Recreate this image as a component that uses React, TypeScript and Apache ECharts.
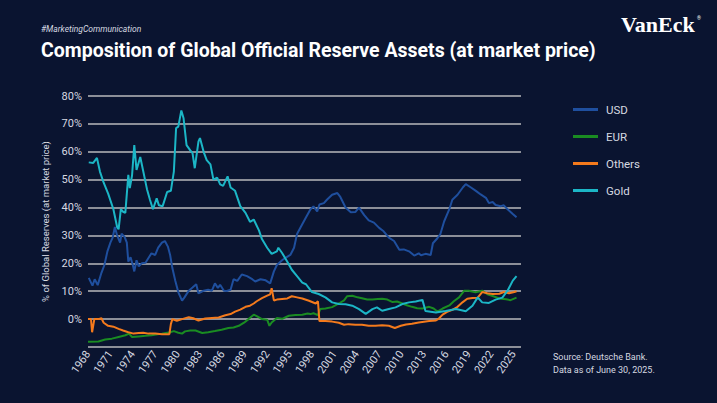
import React, { useEffect, useRef } from "react";
import * as echarts from "echarts";

// Share of global official reserve assets, % at market price; [year, value]
const usd: [number, number][] = [
  [1968.1, 14.8], [1968.6, 12], [1968.9, 14.3], [1969.3, 12.2], [1969.8, 16.6], [1970.2, 19.4],
  [1970.6, 24.3], [1971.0, 27.4], [1971.3, 29.2], [1971.6, 33], [1971.9, 30], [1972.3, 27.4],
  [1972.5, 30.6], [1972.9, 29.5], [1973.2, 27.4], [1973.4, 20.6], [1973.7, 22.2], [1974.0, 19.4],
  [1974.2, 17.1], [1974.5, 21.1], [1974.8, 18.9], [1975.2, 20], [1975.7, 20.2], [1976.1, 21.9],
  [1976.5, 23.6], [1977.0, 23], [1977.4, 25.6], [1977.9, 27.4], [1978.3, 28], [1978.7, 26],
  [1979.0, 23], [1979.3, 18.3], [1979.7, 13.7], [1980.1, 9.6], [1980.6, 6.6], [1980.9, 7.7],
  [1981.5, 10.2], [1982.0, 11.3], [1982.5, 12.5], [1982.8, 9.2], [1983.5, 10.2], [1984.1, 10.5],
  [1984.6, 10.2], [1985.0, 12.8], [1985.4, 11.2], [1985.7, 12.3], [1986.2, 10.2], [1986.6, 10.1],
  [1987.1, 10.5], [1987.5, 14.3], [1988.0, 13.7], [1988.6, 16], [1989.3, 15.4], [1990.0, 14.3],
  [1990.4, 13.5], [1991.1, 14.3], [1991.8, 13.9], [1992.4, 12.8], [1992.9, 17.1], [1993.3, 19.4],
  [1994.0, 21.1], [1994.4, 21.9], [1995.1, 23], [1995.6, 25.6], [1996.0, 30.5], [1996.5, 33],
  [1997.1, 36], [1997.8, 39.4], [1998.2, 40.4], [1998.7, 38.6], [1999.0, 41.1], [1999.6, 41.6],
  [2000.0, 42.8], [2000.7, 44.6], [2001.4, 45.2], [2001.8, 43.8], [2002.5, 40], [2003.2, 38.3],
  [2003.8, 38.4], [2004.3, 40], [2005.0, 37.3], [2005.6, 35.4], [2006.3, 34.6], [2007.0, 32.7],
  [2007.6, 31.5], [2008.3, 29.2], [2009.0, 28], [2009.7, 24.9], [2010.3, 25], [2011.0, 24.3],
  [2011.7, 22.8], [2012.3, 23.6], [2012.6, 22.9], [2013.2, 23.4], [2013.9, 23], [2014.2, 27.2],
  [2014.8, 29], [2015.2, 30.5], [2015.7, 35], [2016.4, 39.4], [2016.8, 42.8], [2017.5, 44.6],
  [2018.2, 47.2], [2018.6, 48.4], [2019.3, 47.2], [2020.0, 45.9], [2020.6, 44.7], [2021.3, 43.5],
  [2021.7, 41.6], [2022.2, 42], [2022.6, 40.9], [2023.3, 40.5], [2023.7, 40.8], [2024.2, 39.4],
  [2024.9, 37.7], [2025.4, 36.5],
];

const eur: [number, number][] = [
  [1968.0, -8.1], [1969.4, -8], [1970.3, -7.3], [1971.2, -7], [1972.1, -6.4], [1973.0, -5.8],
  [1973.5, -5.2], [1973.9, -6.4], [1974.8, -6.2], [1975.7, -6], [1976.5, -5.8], [1977.9, -5.2],
  [1979.0, -4.7], [1979.5, -4.3], [1980.1, -4.9], [1980.6, -5.2], [1981.0, -4.4], [1981.7, -4.1],
  [1982.4, -4.1], [1983.3, -5], [1984.1, -4.7], [1985.0, -4.3], [1985.9, -3.8], [1986.8, -3.2],
  [1987.5, -3], [1988.2, -2.4], [1988.9, -1.3], [1989.5, 0], [1990.2, 1.6], [1990.6, 1.1],
  [1991.3, 0], [1992.0, -0.2], [1992.3, -2.4], [1992.6, -1.2], [1993.3, 0.4], [1994.0, 0.1],
  [1994.9, 1.2], [1995.8, 1.5], [1996.7, 1.6], [1997.4, 2], [1997.8, 1.8], [1998.2, 2.1],
  [1998.8, 1.4], [1999.1, 3.6], [1999.8, 3.8], [2000.7, 4.3], [2001.6, 5.6], [2002.3, 6.7],
  [2002.7, 8.2], [2003.4, 8.4], [2004.1, 7.8], [2004.7, 7.5], [2005.4, 7], [2006.1, 7],
  [2006.8, 7.2], [2007.4, 7.3], [2008.1, 7], [2008.8, 6.1], [2009.4, 6.3], [2010.1, 5.6],
  [2010.8, 4.9], [2011.4, 4.4], [2012.1, 3.9], [2012.8, 3.8], [2013.7, 4.4], [2014.3, 3.8],
  [2014.8, 2.7], [2015.5, 3.8], [2016.4, 4.9], [2017.0, 6.4], [2017.7, 7.8], [2018.4, 10.2],
  [2019.0, 10.2], [2019.9, 9.6], [2020.8, 10.2], [2021.5, 8.9], [2022.2, 8.3], [2023.1, 7.4],
  [2024.0, 7.1], [2024.6, 6.8], [2025.4, 7.7],
];

const others: [number, number][] = [
  [1968.0, 0], [1968.4, 0], [1968.55, -4.7], [1968.85, 0], [1969.4, 0], [1969.8, 0.3],
  [1970.1, -1.3], [1970.7, -2.4], [1971.4, -2.7], [1972.1, -3.5], [1972.7, -4.1], [1973.4, -4.7],
  [1974.1, -5.2], [1974.8, -5], [1975.4, -4.9], [1976.1, -5.2], [1977.0, -5.2], [1977.9, -5.4],
  [1978.9, -5.4], [1979.1, -1.8], [1979.3, 0], [1979.9, -0.6], [1980.6, 0], [1981.5, 0.7],
  [1982.1, 0.3], [1982.8, -0.5], [1983.7, 0.2], [1984.6, 0.4], [1985.5, 0.6], [1986.4, 1.4],
  [1987.1, 1.8], [1987.7, 2.7], [1988.4, 3.4], [1989.1, 4.4], [1989.7, 4.8], [1990.2, 5.6],
  [1990.6, 6.4], [1991.3, 7.5], [1992.0, 8.4], [1992.4, 8.9], [1992.6, 11.1], [1992.9, 6.7],
  [1993.3, 7], [1994.0, 7.2], [1994.7, 7.4], [1995.3, 8.2], [1996.0, 7.8], [1996.7, 7.4],
  [1997.6, 6.6], [1998.5, 5.6], [1998.8, 6.4], [1999.0, -0.7], [1999.8, -0.7], [2000.7, -0.9],
  [2001.6, -1.3], [2002.3, -2], [2002.9, -1.8], [2003.8, -2], [2004.7, -2], [2005.6, -2.4],
  [2006.5, -2.4], [2007.4, -2.2], [2008.3, -2.4], [2009.1, -3.2], [2009.9, -2.4], [2010.6, -1.9],
  [2011.4, -1.7], [2012.3, -1.2], [2013.7, -0.7], [2014.6, -0.5], [2015.0, 0.2], [2015.5, 1.6],
  [2016.1, 2.6], [2016.8, 3.3], [2017.5, 4.4], [2018.2, 6.1], [2018.8, 7.3], [2019.5, 7.6],
  [2020.2, 7.7], [2020.8, 9.7], [2021.5, 9.3], [2022.2, 9], [2023.1, 9.1], [2023.7, 9.7],
  [2024.4, 9.3], [2025.1, 9.7], [2025.4, 10],
];

const gold: [number, number][] = [
  [1968.1, 56.2], [1968.7, 56], [1969.2, 57.8], [1969.6, 52.9], [1970.1, 48.9], [1970.7, 45],
  [1971.4, 39.4], [1971.9, 33], [1972.1, 32.2], [1972.4, 39.4], [1972.7, 38.5], [1973.0, 38.1],
  [1973.4, 51.7], [1973.6, 47], [1973.9, 51.5], [1974.2, 62.4], [1974.5, 53.5], [1975.0, 58.1],
  [1975.4, 53], [1975.9, 46.6], [1976.3, 42.8], [1976.7, 39.4], [1977.2, 43.3], [1977.5, 40.8],
  [1978.0, 40.5], [1978.6, 45.6], [1979.1, 46], [1979.5, 52.9], [1979.8, 68.5], [1980.1, 69],
  [1980.5, 74.8], [1980.8, 72], [1981.2, 62.4], [1981.7, 60.5], [1982.0, 59.5], [1982.3, 54.1],
  [1982.8, 63.7], [1983.0, 64.9], [1983.5, 59.9], [1983.9, 57], [1984.4, 55.5], [1984.8, 50],
  [1985.3, 50.7], [1985.7, 48.3], [1986.1, 47.8], [1986.7, 51.2], [1987.1, 47.2], [1987.7, 46],
  [1988.4, 40.5], [1989.1, 38.1], [1989.7, 34.9], [1990.2, 35.7], [1990.9, 31.8], [1991.3, 28.7],
  [1992.0, 25.6], [1992.6, 23.4], [1993.3, 24.3], [1993.5, 25.6], [1994.0, 23.7], [1994.7, 20.6],
  [1995.3, 17.7], [1996.0, 15.4], [1996.7, 13.1], [1997.2, 12.5], [1998.0, 9.7], [1998.9, 9],
  [1999.8, 7.8], [2000.7, 6], [2001.6, 5.4], [2002.5, 5.3], [2003.4, 4.8], [2004.3, 3.6],
  [2005.2, 1.9], [2006.1, 3.6], [2006.7, 4.2], [2007.4, 3], [2008.3, 3.6], [2009.2, 4.2],
  [2010.1, 5.4], [2011.0, 6], [2011.9, 6.3], [2012.8, 6.9], [2013.2, 2.9], [2014.6, 2.4],
  [2015.9, 2.9], [2017.3, 3.6], [2018.6, 2.8], [2019.5, 4.8], [2020.2, 7.8], [2020.8, 6],
  [2021.7, 5.8], [2022.6, 7], [2023.5, 7.7], [2024.2, 10.2], [2024.9, 13.8], [2025.4, 15.4],
];

const seriesNames = ["USD", "EUR", "Others", "Gold"];
const seriesColors = ["#1f4f9e", "#1a8c22", "#f47a1c", "#1cb6c6"];
const seriesData = [usd, eur, others, gold];

const BG = "#0a1430";
const TEXT = "#d6d9e0";
const GRID = "#8c8f98";
const FONT = "Roboto, 'Liberation Sans', sans-serif";

export default function App() {
  const ref = useRef<HTMLDivElement>(null);

  useEffect(() => {
    document.body.style.margin = "0";
    document.body.style.background = BG;
    const chart = echarts.init(ref.current!, null, { renderer: "svg" });
    chart.setOption({
      animation: false,
      backgroundColor: BG,
      textStyle: { fontFamily: FONT },
      grid: { left: 88, right: 196, top: 96, bottom: 56, containLabel: false },
      legend: {
        data: seriesNames,
        orient: "vertical",
        left: 568,
        top: 97.5,
        icon: "rect",
        itemWidth: 25,
        itemHeight: 3,
        itemGap: 13,
        textStyle: { color: TEXT, fontSize: 11.5, fontFamily: FONT, lineHeight: 14, padding: [0, 0, 0, 3] },
      },
      xAxis: {
        type: "value",
        min: 1968,
        max: 2026,
        interval: 3,
        axisLine: { show: false },
        axisTick: { show: false },
        splitLine: { show: false },
        axisLabel: {
          rotate: 55,
          margin: 5,
          color: TEXT,
          fontSize: 11,
          fontFamily: FONT,
          formatter: (v: number) => {
            const y = Math.round(v);
            return (y - 1968) % 3 === 0 && y < 2026 ? String(y) : "";
          },
        },
      },
      yAxis: {
        type: "value",
        min: -10,
        max: 80,
        interval: 10,
        name: "% of Global Reserves (at market price)",
        nameLocation: "middle",
        nameGap: 38,
        nameTextStyle: { color: TEXT, fontSize: 9.5, fontFamily: FONT },
        axisLine: { show: false },
        axisTick: { show: false },
        axisLabel: {
          color: TEXT,
          fontSize: 11,
          fontFamily: FONT,
          margin: 6,
          formatter: (v: number) => (v < 0 ? "" : `${v}%`),
        },
        splitLine: { lineStyle: { color: GRID, width: 2 } },
      },
      series: seriesNames.map((name, i) => ({
        name,
        type: "line",
        data: seriesData[i],
        showSymbol: false,
        symbol: "none",
        lineStyle: { color: seriesColors[i], width: 2 },
        itemStyle: { color: seriesColors[i] },
      })),
      graphic: [
        {
          type: "text",
          left: 41,
          top: 24,
          style: { text: "#MarketingCommunication", fill: TEXT, font: `italic 8.5px ${FONT}` },
        },
        {
          type: "text",
          left: 41,
          top: 40,
          style: {
            text: "Composition of Global Official Reserve Assets (at market price)",
            fill: "#ffffff",
            font: `bold 19.5px ${FONT}`,
          },
        },
        {
          type: "text",
          left: 621,
          top: 13,
          style: { text: "VanEck", fill: "#ffffff", font: `bold 22px 'Liberation Serif', 'DejaVu Serif', serif` },
        },
        {
          type: "text",
          left: 697,
          top: 15,
          style: { text: "®", fill: "#ffffff", font: `5px ${FONT}` },
        },
        {
          type: "text",
          left: 553,
          top: 350,
          style: {
            text: "Source: Deutsche Bank.\nData as of June 30, 2025.",
            fill: TEXT,
            font: `9px ${FONT}`,
            lineHeight: 13.5,
          },
        },
      ],
    });
    return () => chart.dispose();
  }, []);

  return <div ref={ref} style={{ width: 717, height: 403 }} />;
}
